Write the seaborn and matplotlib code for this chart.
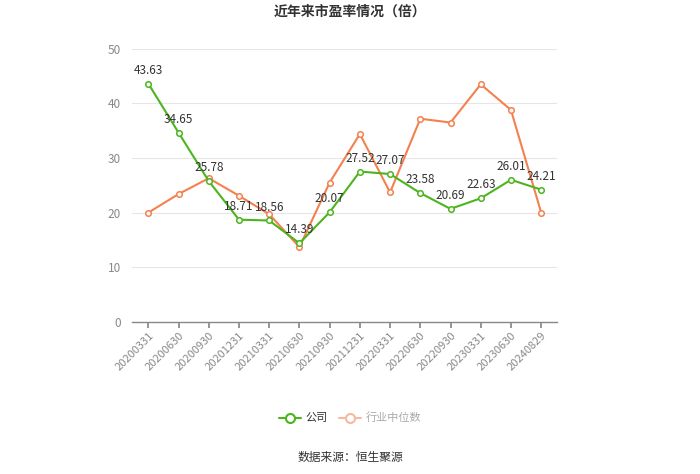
import matplotlib
matplotlib.use("Agg")
import matplotlib.pyplot as plt
import seaborn as sns
import pandas as pd
from matplotlib.lines import Line2D

dates = ["20200331", "20200630", "20200930", "20201231", "20210331", "20210630", "20210930",
         "20211231", "20220331", "20220630", "20220930", "20230331", "20230630", "20240829"]
company = [43.63, 34.65, 25.78, 18.71, 18.56, 14.39, 20.07, 27.52, 27.07, 23.58, 20.69, 22.63, 26.01, 24.21]
industry = [20.0, 23.4, 26.3, 23.1, 19.7, 13.7, 25.5, 34.4, 23.7, 37.2, 36.5, 43.5, 38.8, 20.0]

GREEN = "#4cb51e"
ORANGE = "#f5804f"

sns.set_theme(style="white")
plt.rcParams['font.family'] = ['Noto Sans CJK SC', 'DejaVu Sans']

df = pd.DataFrame({"date": dates, "公司": company, "行业中位数": industry})
df["x"] = range(len(dates))

fig = plt.figure(figsize=(7, 4.74), dpi=100)
ax = fig.add_axes([0.189, 0.321, 0.607, 0.576])

sns.lineplot(data=df, x="x", y="行业中位数", ax=ax, color=ORANGE, lw=1.5, marker="o",
             markersize=4, markerfacecolor="white", markeredgecolor=ORANGE, markeredgewidth=1.1)
sns.lineplot(data=df, x="x", y="公司", ax=ax, color=GREEN, lw=1.5, marker="o",
             markersize=4, markerfacecolor="white", markeredgecolor=GREEN, markeredgewidth=1.1)

for i, v in enumerate(company):
    ax.annotate(f"{v:.2f}", (i, v), xytext=(0, 5), textcoords="offset points",
                ha="center", va="bottom", fontsize=8.5, color="#333333")

ax.set_xlim(-0.53, len(dates) - 0.47)
ax.set_ylim(0, 50)
ax.set_yticks([0, 10, 20, 30, 40, 50])
ax.set_xticks(range(len(dates)))
ax.set_xticklabels(dates, rotation=45, ha="right", rotation_mode="anchor", fontsize=8, color="#888888")
ax.tick_params(axis="y", labelsize=8.5, labelcolor="#888888", length=0, pad=8)
ax.tick_params(axis="x", length=4, color="#888888", pad=2, bottom=True)
ax.set_xlabel("")
ax.set_ylabel("")
ax.grid(axis="y", color="#e6e6e6", lw=0.8)
ax.set_axisbelow(True)
for s in ["top", "right", "left"]:
    ax.spines[s].set_visible(False)
ax.spines["bottom"].set_color("#888888")
ax.spines["bottom"].set_linewidth(1)

fig.text(0.5, 0.975, "近年来市盈率情况（倍）", ha="center", va="center", fontsize=10,
         fontweight="bold", color="#333333")

handles = [
    Line2D([], [], color=GREEN, lw=1.5, marker="o", markersize=6.5, markerfacecolor="white",
           markeredgecolor=GREEN, markeredgewidth=1.5),
    Line2D([], [], color="#f7b9a0", lw=1.5, marker="o", markersize=6.5, markerfacecolor="white",
           markeredgecolor="#f7b9a0", markeredgewidth=1.5),
]
leg = fig.legend(handles, ["公司", "行业中位数"], loc="center", bbox_to_anchor=(0.5, 0.118),
                 ncol=2, frameon=False, fontsize=8, handlelength=2.0, columnspacing=1.0,
                 handletextpad=0.4)
leg.get_texts()[0].set_color("#333333")
leg.get_texts()[1].set_color("#aaaaaa")

fig.text(0.5, 0.034, "数据来源：恒生聚源", ha="center", va="center", fontsize=8.5, color="#333333")

fig.savefig("out.png", dpi=100)
